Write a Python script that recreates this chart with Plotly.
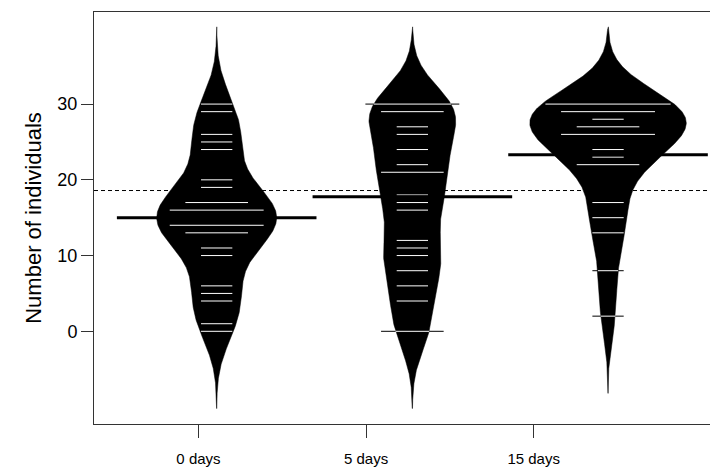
import numpy as np
import plotly.graph_objects as go

categories = ["0 days", "5 days", "15 days"]
obs_0 = [0, 1, 4, 5, 6, 10, 11, 13, 13, 14, 14, 14, 16, 16, 16, 17, 17, 19, 20, 24, 25, 26, 29, 30]
obs_5 = [0, 0, 4, 6, 8, 10, 11, 12, 16, 17, 18, 21, 21, 22, 24, 26, 27, 29, 29, 30, 30, 30]
obs_15 = [2, 8, 13, 15, 17, 22, 22, 23, 24, 26, 26, 26, 27, 27, 28, 29, 29, 29, 30, 30, 30, 30]
y_ticks = [0, 10, 20, 30]

groups = [obs_0, obs_5, obs_15]
positions = [1, 2, 3]
bw = 3.4
cut = 3
maxwidth = 0.8
ll = 0.16
beanline_half = 0.51


def kde(data, grid, h):
    d = np.asarray(data, float)
    z = (grid[:, None] - d[None, :]) / h
    return np.exp(-0.5 * z ** 2).sum(axis=1) / (len(d) * h * np.sqrt(2 * np.pi))


grids, dens = [], []
for g in groups:
    grid = np.linspace(min(g) - cut * bw, max(g) + cut * bw, 512)
    grids.append(grid)
    dens.append(kde(g, grid, bw))
dmax = max(d.max() for d in dens)

all_obs = np.concatenate([np.asarray(g, float) for g in groups])
overall_mean = all_obs.mean()

fig = go.Figure()

fig.add_shape(type="line", xref="paper", yref="y", x0=0, x1=1,
              y0=overall_mean, y1=overall_mean, layer="below",
              line=dict(color="black", width=1, dash="4px,3px"))

for pos, grid, d in zip(positions, grids, dens):
    hw = d / dmax * maxwidth / 2
    xs = np.concatenate([pos - hw, (pos + hw)[::-1]])
    ys = np.concatenate([grid, grid[::-1]])
    fig.add_trace(go.Scatter(x=xs, y=ys, fill="toself", fillcolor="black",
                             mode="lines", line=dict(color="black", width=0.5),
                             showlegend=False, hoverinfo="skip"))

wx, wy, bx, by = [], [], [], []
for pos, g, grid, d in zip(positions, groups, grids, dens):
    vals, cnts = np.unique(np.asarray(g, float), return_counts=True)
    hwgrid = d / dmax * maxwidth / 2
    for v, c in zip(vals, cnts):
        L = c * ll / 2
        w = float(np.interp(v, grid, hwgrid))
        m = min(L, w)
        wx += [pos - m, pos + m, None]
        wy += [v, v, None]
        if L > w:
            bx += [pos - L, pos - w, None, pos + w, pos + L, None]
            by += [v, v, None, v, v, None]

fig.add_trace(go.Scatter(x=wx, y=wy, mode="lines", line=dict(color="white", width=1),
                         showlegend=False, hoverinfo="skip"))
fig.add_trace(go.Scatter(x=bx, y=by, mode="lines", line=dict(color="black", width=1),
                         showlegend=False, hoverinfo="skip"))

for pos, g in zip(positions, groups):
    m = float(np.mean(g))
    fig.add_trace(go.Scatter(x=[pos - beanline_half, pos + beanline_half], y=[m, m],
                             mode="lines", line=dict(color="black", width=3),
                             showlegend=False, hoverinfo="skip"))

fig.add_trace(go.Scatter(x=positions, y=[None] * 3, xaxis="x2", mode="markers",
                         showlegend=False, hoverinfo="skip"))

axis_col = "#333333"
fig.update_layout(
    width=710, height=459,
    margin=dict(l=86, r=0, t=4, b=39),
    paper_bgcolor="white", plot_bgcolor="white",
    font=dict(family="Liberation Sans, Arial, sans-serif", color="black"),
    xaxis=dict(range=[0.373, 3.562], showline=True, mirror=True, linecolor=axis_col,
               linewidth=1, showgrid=False, zeroline=False, showticklabels=False,
               ticks=""),
    xaxis2=dict(overlaying="x", anchor="y", side="bottom", range=[0.3767, 4.1],
                tickmode="array", tickvals=positions, ticktext=categories,
                ticks="outside", ticklen=13, tickcolor=axis_col, tickwidth=1,
                showline=False, showgrid=False, zeroline=False,
                tickfont=dict(size=15), ticklabelstandoff=8),
    yaxis=dict(range=[-12.24, 42.16], tickmode="array", tickvals=y_ticks,
               ticks="outside", ticklen=12, tickcolor=axis_col, tickwidth=1,
               showline=True, linecolor=axis_col, linewidth=1,
               showgrid=False, zeroline=False, tickfont=dict(size=18),
               title=dict(text="Number of individuals", font=dict(size=22), standoff=9)),
)

fig.write_html("out.html")
